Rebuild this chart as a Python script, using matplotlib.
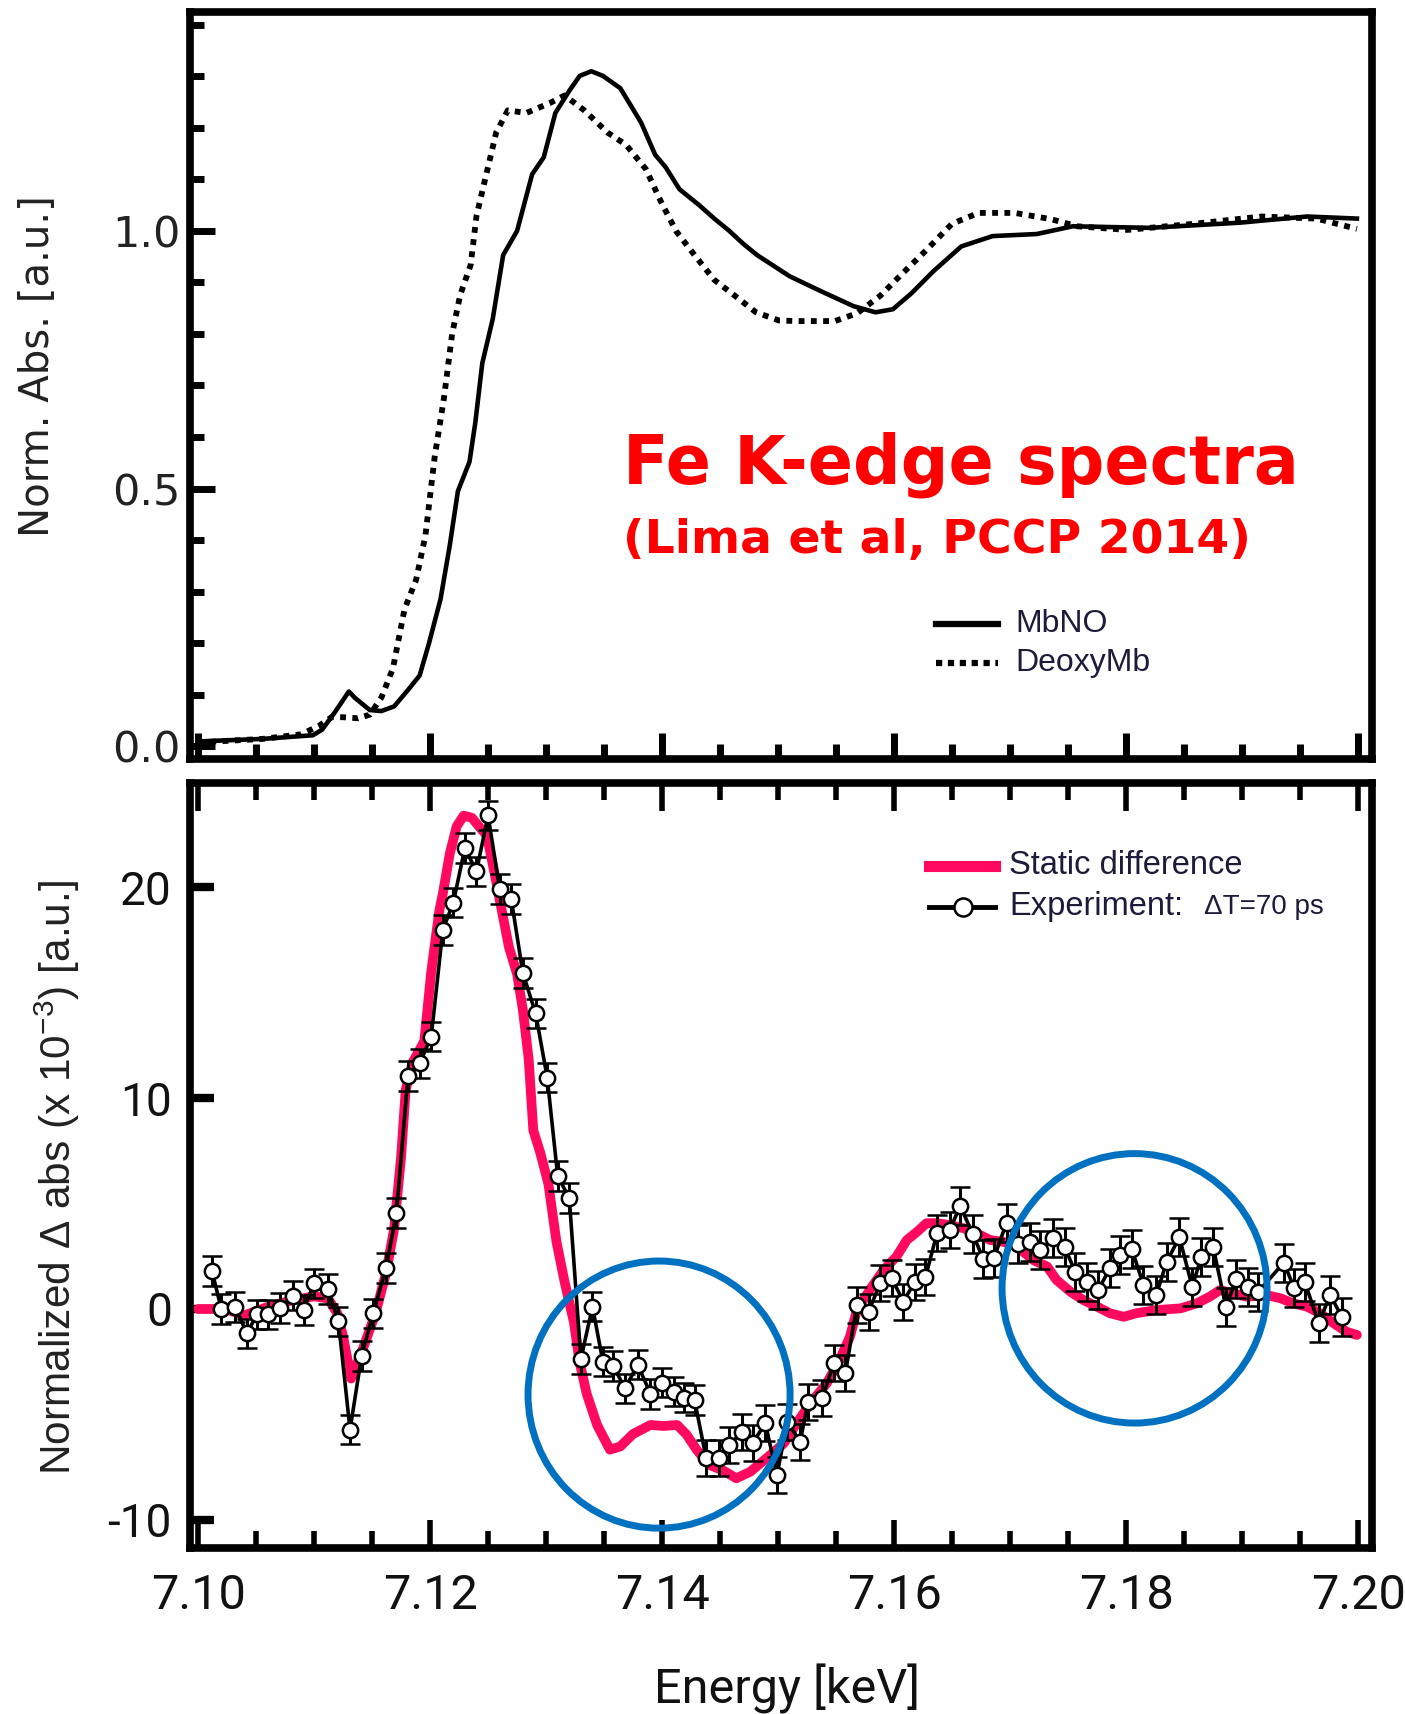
import matplotlib
matplotlib.use("Agg")
import matplotlib.pyplot as plt
from matplotlib.patches import Ellipse
from matplotlib.ticker import MultipleLocator, FormatStrFormatter
from matplotlib.lines import Line2D

plt.rcParams["mathtext.default"] = "regular"
plt.rcParams["axes.unicode_minus"] = False

NARROW = ["Roboto", "DejaVu Sans"]
SANS = ["Liberation Sans", "DejaVu Sans"]

# ---- top panel: normalised Fe K-edge absorption ----
e_mbno = [7.1000, 7.1056, 7.1099, 7.1107, 7.1118, 7.1130, 7.1135, 7.1148, 7.1158,
          7.1169, 7.1181, 7.1191, 7.1199, 7.1209, 7.1217, 7.1224, 7.1234, 7.1239,
          7.1245, 7.1254, 7.1263, 7.1275, 7.1288, 7.1298, 7.1308, 7.1320, 7.1329,
          7.1339, 7.1349, 7.1364, 7.1382, 7.1394, 7.1403, 7.1415, 7.1432, 7.1445,
          7.1458, 7.1470, 7.1482, 7.1510, 7.1537, 7.1565, 7.1584, 7.1599, 7.1615,
          7.1634, 7.1658, 7.1685, 7.1723, 7.1754, 7.1820, 7.1898, 7.1956, 7.1999]
a_mbno = [0.009, 0.014, 0.021, 0.032, 0.066, 0.106, 0.094, 0.070, 0.068,
          0.077, 0.109, 0.137, 0.199, 0.285, 0.390, 0.495, 0.552, 0.628,
          0.743, 0.829, 0.953, 1.000, 1.110, 1.143, 1.229, 1.272, 1.301,
          1.310, 1.301, 1.277, 1.210, 1.148, 1.124, 1.081, 1.050, 1.024,
          1.000, 0.975, 0.953, 0.912, 0.883, 0.854, 0.842, 0.848, 0.879,
          0.922, 0.970, 0.990, 0.994, 1.009, 1.006, 1.016, 1.028, 1.024]

e_deoxy = [7.1000, 7.1056, 7.1089, 7.1104, 7.1115, 7.1125, 7.1138, 7.1148, 7.1158,
           7.1168, 7.1178, 7.1188, 7.1196, 7.1204, 7.1212, 7.1219, 7.1226, 7.1235,
           7.1240, 7.1249, 7.1257, 7.1267, 7.1283, 7.1303, 7.1316, 7.1333, 7.1353,
           7.1369, 7.1386, 7.1399, 7.1412, 7.1428, 7.1445, 7.1464, 7.1481, 7.1501,
           7.1518, 7.1549, 7.1568, 7.1588, 7.1607, 7.1627, 7.1650, 7.1673, 7.1704,
           7.1735, 7.1758, 7.1801, 7.1859, 7.1917, 7.1964, 7.1999]
a_deoxy = [0.007, 0.014, 0.023, 0.039, 0.056, 0.056, 0.054, 0.061, 0.094,
           0.151, 0.266, 0.323, 0.409, 0.562, 0.676, 0.800, 0.876, 0.934,
           1.029, 1.115, 1.191, 1.234, 1.229, 1.248, 1.263, 1.234, 1.191,
           1.167, 1.120, 1.057, 1.000, 0.953, 0.905, 0.872, 0.842, 0.826,
           0.825, 0.825, 0.840, 0.874, 0.917, 0.961, 1.014, 1.035, 1.035,
           1.023, 1.009, 1.002, 1.014, 1.028, 1.024, 1.004]

# ---- bottom panel: static difference and 70 ps experiment ----
e_static = [7.1000, 7.1023, 7.1040, 7.1060, 7.1080, 7.1100, 7.1112, 7.1120, 7.1125,
            7.1132, 7.1142, 7.1153, 7.1162, 7.1169, 7.1175, 7.1179, 7.1185, 7.1195,
            7.1201, 7.1208, 7.1211, 7.1217, 7.1223, 7.1229, 7.1236, 7.1242, 7.1249,
            7.1256, 7.1262, 7.1268, 7.1275, 7.1280, 7.1285, 7.1289, 7.1295, 7.1302,
            7.1309, 7.1316, 7.1324, 7.1329, 7.1335, 7.1344, 7.1355, 7.1364, 7.1375,
            7.1390, 7.1401, 7.1413, 7.1421, 7.1430, 7.1441, 7.1453, 7.1464, 7.1476,
            7.1490, 7.1505, 7.1516, 7.1528, 7.1542, 7.1553, 7.1562, 7.1568, 7.1579,
            7.1591, 7.1602, 7.1611, 7.1620, 7.1628, 7.1637, 7.1648, 7.1660, 7.1671,
            7.1683, 7.1694, 7.1706, 7.1720, 7.1732, 7.1740, 7.1752, 7.1763, 7.1775,
            7.1786, 7.1798, 7.1809, 7.1826, 7.1847, 7.1861, 7.1872, 7.1881, 7.1892,
            7.1904, 7.1921, 7.1933, 7.1944, 7.1956, 7.1967, 7.1979, 7.1990, 7.1999]
d_static = [0.0, 0.0, -0.3, 0.1, 0.4, 0.6, 0.5, -0.2, -1.3,
            -3.3, -1.9, -0.2, 1.7, 3.8, 7.2, 10.4, 11.7, 12.7,
            16.0, 18.9, 19.7, 21.6, 22.9, 23.4, 23.3, 22.9, 22.45,
            20.55, 18.85, 17.16, 15.89, 14.19, 11.86, 8.47, 7.41, 5.93,
            3.18, 1.28, -0.63, -2.54, -4.02, -5.5, -6.67, -6.52, -5.93,
            -5.5, -5.55, -5.5, -5.95, -6.69, -7.40, -7.67, -8.03, -7.72,
            -7.08, -6.37, -5.42, -4.47, -3.52, -2.42, -1.31, -0.05, 0.90,
            1.85, 2.48, 3.27, 3.67, 4.07, 4.07, 3.98, 3.83, 3.59,
            3.27, 3.19, 2.96, 2.32, 2.01, 1.38, 0.82, 0.43, 0.11,
            -0.20, -0.37, -0.20, -0.05, 0.03, 0.27, 0.58, 0.90, 0.74,
            0.58, 0.66, 0.51, 0.27, 0.11, -0.20, -0.68, -1.08, -1.23]

e_exp = [7.1012, 7.1020, 7.1032, 7.1042, 7.1051, 7.1060, 7.1071, 7.1082, 7.1091, 7.1100,
         7.1112, 7.1121, 7.1131, 7.1141, 7.1151, 7.1162, 7.1171, 7.1181, 7.1191, 7.1201,
         7.1211, 7.1220, 7.1230, 7.1240, 7.1250, 7.1260, 7.1270, 7.1280, 7.1291, 7.1301,
         7.1310, 7.1320, 7.1330, 7.1340, 7.1349, 7.1358, 7.1368, 7.1379, 7.1390, 7.1400,
         7.1410, 7.1419, 7.1428, 7.1438, 7.1449, 7.1458, 7.1469, 7.1478, 7.1489, 7.1499,
         7.1508, 7.1519, 7.1526, 7.1538, 7.1548, 7.1558, 7.1568, 7.1578, 7.1588, 7.1598,
         7.1608, 7.1618, 7.1627, 7.1637, 7.1648, 7.1657, 7.1668, 7.1677, 7.1686, 7.1697,
         7.1707, 7.1717, 7.1726, 7.1737, 7.1747, 7.1756, 7.1766, 7.1776, 7.1786, 7.1795,
         7.1805, 7.1815, 7.1826, 7.1835, 7.1846, 7.1857, 7.1865, 7.1875, 7.1886, 7.1895,
         7.1905, 7.1914, 7.1936, 7.1945, 7.1954, 7.1966, 7.1976, 7.1986]
d_exp = [1.80, 0.00, 0.10, -1.16, -0.25, -0.25, 0.05, 0.64, -0.04, 1.21,
         0.96, -0.59, -5.72, -2.22, -0.21, 1.95, 4.55, 11.06, 11.65, 12.92,
         17.98, 19.27, 21.86, 20.76, 23.41, 19.91, 19.44, 15.93, 14.02, 10.97,
         6.31, 5.26, -2.37, 0.11, -2.50, -2.70, -3.77, -2.64, -4.02, -3.49,
         -3.92, -4.20, -4.32, -7.08, -7.08, -6.45, -5.82, -6.37, -5.42, -7.88,
         -5.35, -6.29, -4.40, -4.24, -2.58, -3.05, 0.19, -0.13, 1.22, 1.46,
         0.35, 1.30, 1.50, 3.59, 3.75, 4.89, 3.54, 2.36, 2.40, 4.10,
         3.07, 3.19, 2.80, 3.35, 2.96, 1.77, 1.30, 0.90, 1.93, 2.56,
         2.83, 1.14, 0.66, 2.24, 3.40, 1.06, 2.48, 2.96, 0.11, 1.41,
         1.03, 0.82, 2.20, 0.98, 1.30, -0.68, 0.66, -0.37]
err_exp = [0.70, 0.70, 0.70, 0.70, 0.70, 0.70, 0.70, 0.70, 0.70, 0.70,
           0.70, 0.70, 0.70, 0.70, 0.70, 0.70, 0.70, 0.70, 0.70, 0.70,
           0.70, 0.70, 0.70, 0.70, 0.70, 0.70, 0.70, 0.70, 0.70, 0.70,
           0.70, 0.70, 0.70, 0.70, 0.70, 0.70, 0.70, 0.70, 0.70, 0.70,
           0.70, 0.70, 0.70, 0.85, 0.85, 0.85, 0.85, 0.85, 0.85, 0.85,
           0.85, 0.85, 0.85, 0.85, 0.85, 0.85, 0.85, 0.85, 0.85, 0.85,
           0.85, 0.85, 0.85, 0.85, 0.85, 0.90, 0.90, 0.90, 0.90, 0.90,
           0.90, 0.90, 0.90, 0.90, 0.90, 0.90, 0.90, 0.90, 0.90, 0.90,
           0.90, 0.90, 0.90, 0.90, 0.90, 0.90, 0.90, 0.90, 0.90, 0.90,
           0.90, 0.90, 0.90, 0.90, 0.90, 0.90, 0.90, 0.90]

PINK = "#FF0A5E"
BLUE = "#0070C0"
SPINE_W = 5.5

fig = plt.figure(figsize=(14.05, 17.14), dpi=100)

# ============================================================
# top panel
# ============================================================
ax1 = fig.add_axes([0.1352, 0.5572, 0.8413, 0.4358])
ax1.plot(e_mbno, a_mbno, color="black", lw=3.3, solid_joinstyle="round")
ax1.plot(e_deoxy, a_deoxy, color="black", lw=4.2, linestyle=(0, (1, 1.1)))
ax1.set_xlim(7.0993, 7.2012)
ax1.set_ylim(-0.025, 1.425)
ax1.xaxis.set_major_locator(MultipleLocator(0.02))
ax1.xaxis.set_minor_locator(MultipleLocator(0.005))
ax1.yaxis.set_major_locator(MultipleLocator(0.5))
ax1.yaxis.set_minor_locator(MultipleLocator(0.1))
ax1.yaxis.set_major_formatter(FormatStrFormatter("%.1f"))
ax1.tick_params(axis="x", which="both", direction="in", bottom=True, top=False,
                labelbottom=False)
ax1.tick_params(axis="x", which="major", length=19, width=5)
ax1.tick_params(axis="x", which="minor", length=11, width=5)
ax1.tick_params(axis="y", which="both", direction="in", left=True, right=False)
ax1.tick_params(axis="y", which="major", length=18, width=5, pad=7,
                labelsize=31, labelcolor="#222222")
ax1.tick_params(axis="y", which="minor", length=10, width=5)
for lab in ax1.get_yticklabels():
    lab.set_family("DejaVu Sans")
for sp in ax1.spines.values():
    sp.set_linewidth(SPINE_W)

# legend, drawn by hand
ax1.add_line(Line2D([0.631, 0.684], [0.1807, 0.1807], transform=ax1.transAxes,
                    color="black", lw=4.5))
ax1.add_line(Line2D([0.631, 0.684], [0.1285, 0.1285], transform=ax1.transAxes,
                    color="black", lw=4.5, linestyle=(0, (1, 0.9))))
ax1.text(0.698, 0.1807, "MbNO", transform=ax1.transAxes, va="center", ha="left",
         fontsize=23, family=SANS, color="#1c1c3a")
ax1.text(0.698, 0.1285, "DeoxyMb", transform=ax1.transAxes, va="center", ha="left",
         fontsize=23, family=SANS, color="#1c1c3a")

fig.text(38 / 1405, 1 - 366 / 1714, "Norm. Abs. [a.u.]", rotation=90,
         ha="center", va="center", fontsize=29, family="DejaVu Sans", color="#222222")

fig.text(623 / 1405, 1 - 465 / 1714, "Fe K-edge spectra", ha="left", va="center",
         fontsize=48, fontweight="bold", color="#FF0000", family="DejaVu Sans")
fig.text(623 / 1405, 1 - 540 / 1714, "(Lima et al, PCCP 2014)", ha="left", va="center",
         fontsize=34, fontweight="bold", color="#FF0000", family="DejaVu Sans")

# ============================================================
# bottom panel
# ============================================================
ax2 = fig.add_axes([0.1352, 0.0968, 0.8413, 0.4464])
ax2.plot(e_static, d_static, color=PINK, lw=7, solid_capstyle="round",
         solid_joinstyle="round", zorder=2)
ax2.errorbar(e_exp, d_exp, yerr=err_exp, fmt="-o", color="black", lw=2.6,
             ms=11, mfc="white", mec="black", mew=1.8, ecolor="black",
             elinewidth=2.2, capsize=7, capthick=2.8, zorder=3)

ax2.add_patch(Ellipse((7.13974, -4.06), 0.02259, 12.67, fill=False, ec=BLUE,
                      lw=5, zorder=5))
ax2.add_patch(Ellipse((7.18073, 0.98), 0.02284, 12.78, fill=False, ec=BLUE,
                      lw=5, zorder=5))

ax2.set_xlim(7.0993, 7.2012)
ax2.set_ylim(-11.34, 24.95)
ax2.xaxis.set_major_locator(MultipleLocator(0.02))
ax2.xaxis.set_minor_locator(MultipleLocator(0.005))
ax2.xaxis.set_major_formatter(FormatStrFormatter("%.2f"))
ax2.yaxis.set_major_locator(MultipleLocator(10))
ax2.tick_params(axis="x", which="both", direction="in", bottom=True, top=True)
ax2.tick_params(axis="x", which="major", length=20, width=4, pad=18, labelsize=35,
                labelcolor="#111111")
ax2.tick_params(axis="x", which="minor", length=12, width=4)
ax2.tick_params(axis="y", which="major", direction="in", left=True, right=False,
                length=17, width=6, pad=13, labelsize=33, labelcolor="#111111")
for lab in ax2.get_xticklabels():
    lab.set_family(NARROW)
for lab in ax2.get_yticklabels():
    lab.set_family(NARROW)
for sp in ax2.spines.values():
    sp.set_linewidth(SPINE_W)

# legend, drawn by hand
ax2.add_line(Line2D([0.625, 0.681], [0.8915, 0.8915], transform=ax2.transAxes,
                    color=PINK, lw=8))
ax2.add_line(Line2D([0.625, 0.681], [0.838, 0.838], transform=ax2.transAxes,
                    color="black", lw=3.5))
ax2.add_line(Line2D([0.654], [0.838], transform=ax2.transAxes, marker="o", ms=13,
                    mfc="white", mec="black", mew=1.8, lw=0))
ax2.text(0.693, 0.8915, "Static difference", transform=ax2.transAxes, va="center",
         ha="left", fontsize=23.5, family=SANS, color="#1c1c3a")
ax2.text(0.693, 0.838, "Experiment:", transform=ax2.transAxes, va="center",
         ha="left", fontsize=23.5, family=SANS, color="#1c1c3a")
ax2.text(0.8575, 0.838, "ΔT=70 ps", transform=ax2.transAxes, va="center",
         ha="left", fontsize=20, family=SANS, color="#1c1c3a")

fig.text(57 / 1405, 1 - 1178 / 1714, "Normalized Δ abs (x 10$^{-3}$) [a.u.]",
         rotation=90, ha="center", va="center", fontsize=30.5, family=SANS,
         color="#222222")
fig.text(787 / 1405, 1 - 1689 / 1714, "Energy [keV]", ha="center", va="center",
         fontsize=35, family=NARROW, color="#111111")

fig.savefig("out.png", dpi=100)
